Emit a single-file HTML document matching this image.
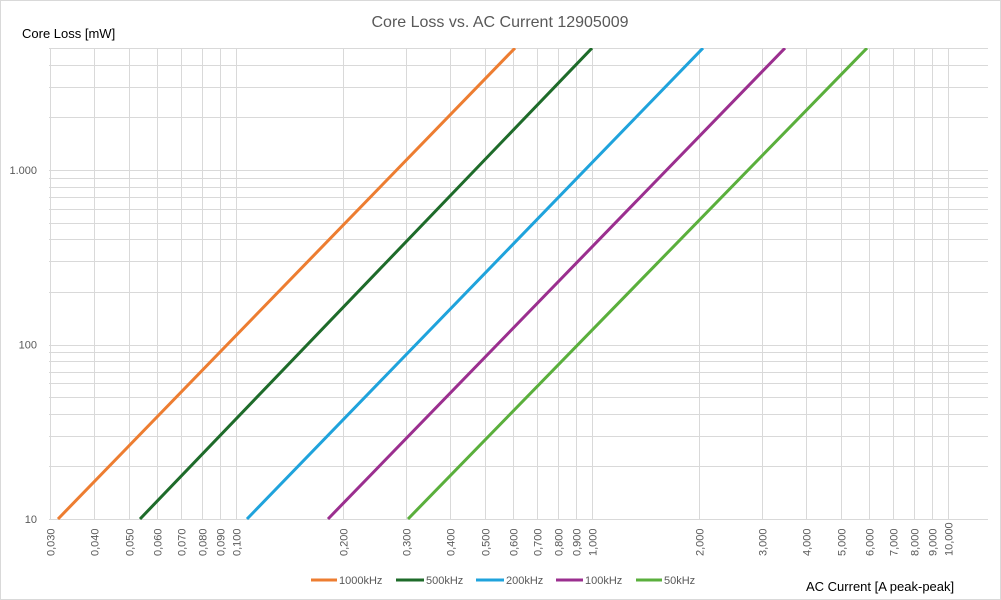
<!DOCTYPE html>
<html><head><meta charset="utf-8"><style>
html,body{margin:0;padding:0;background:#fff;}
svg{display:block;font-family:"Liberation Sans",sans-serif;}
</style></head><body>
<svg id="s" width="1001" height="600" viewBox="0 0 1001 600" xmlns="http://www.w3.org/2000/svg">
<rect x="0.5" y="0.5" width="1000" height="599" fill="#fff" stroke="#d9d9d9"/>
<text x="500" y="27" text-anchor="middle" font-size="16" fill="#595959">Core Loss vs. AC Current 12905009</text>
<text x="22" y="38" font-size="13" fill="#000">Core Loss [mW]</text>
<text x="806" y="591" font-size="13" fill="#000">AC Current [A peak-peak]</text>
<g id="grid" stroke="#d9d9d9" stroke-width="1"></g>
<g id="lab" font-size="11" fill="#595959"></g>
<defs><clipPath id="c"><rect x="49" y="48" width="939" height="472"/></clipPath></defs>
<g id="ser" clip-path="url(#c)" fill="none" stroke-width="3"></g>
<g font-size="11" fill="#595959">
<line x1="311" y1="580" x2="337" y2="580" stroke="#ed7d31" stroke-width="3"/><text x="339" y="584">1000kHz</text>
<line x1="396" y1="580" x2="424" y2="580" stroke="#1e6b2a" stroke-width="3"/><text x="426" y="584">500kHz</text>
<line x1="476" y1="580" x2="504" y2="580" stroke="#1fa3dc" stroke-width="3"/><text x="506" y="584">200kHz</text>
<line x1="556" y1="580" x2="583" y2="580" stroke="#9b2f8f" stroke-width="3"/><text x="585" y="584">100kHz</text>
<line x1="636" y1="580" x2="662" y2="580" stroke="#5aaf3c" stroke-width="3"/><text x="664" y="584">50kHz</text>
</g>
</svg>
<script>
var NS="http://www.w3.org/2000/svg";
function X(v){return 236+356*Math.log10(v/0.1);}
function Y(v){return 170-174.5*Math.log10(v/1000);}
function el(p,t,a,txt){var e=document.createElementNS(NS,t);for(var k in a)e.setAttribute(k,a[k]);if(txt)e.textContent=txt;document.getElementById(p).appendChild(e);return e;}
var xs=[0.03,0.04,0.05,0.06,0.07,0.08,0.09,0.1,0.2,0.3,0.4,0.5,0.6,0.7,0.8,0.9,1,2,3,4,5,6,7,8,9,10];
xs.forEach(function(v){var x=Math.round(X(v))+0.5;el("grid","line",{x1:x,y1:48,x2:x,y2:520});
var s=v.toFixed(3).replace(".",",");if(v>=1)s=v.toFixed(3).replace(".",",").replace(/^(\d+),/,function(m,a){return a+",";});
var t=el("lab","text",{transform:"translate("+(x+4)+",556) rotate(-90)"},s);});
var ys=[10,20,30,40,50,60,70,80,90,100,200,300,400,500,600,700,800,900,1000,2000,3000,4000,5000];
ys.forEach(function(v){var y=Math.round(Y(v))+0.5;el("grid","line",{x1:49,y1:y,x2:988,y2:y});});
[[10,"10"],[100,"100"],[1000,"1.000"]].forEach(function(p){el("lab","text",{x:37,y:Y(p[0])+4,"text-anchor":"end"},p[1]);});
var ser=[["#ed7d31",58,515],["#1e6b2a",140,592],["#1fa3dc",247,703],["#9b2f8f",328,785],["#5aaf3c",408,867]];
ser.forEach(function(s){el("ser","line",{x1:s[1],y1:Y(10),x2:s[2],y2:Y(5000),stroke:s[0]});});
</script>
</body></html>
